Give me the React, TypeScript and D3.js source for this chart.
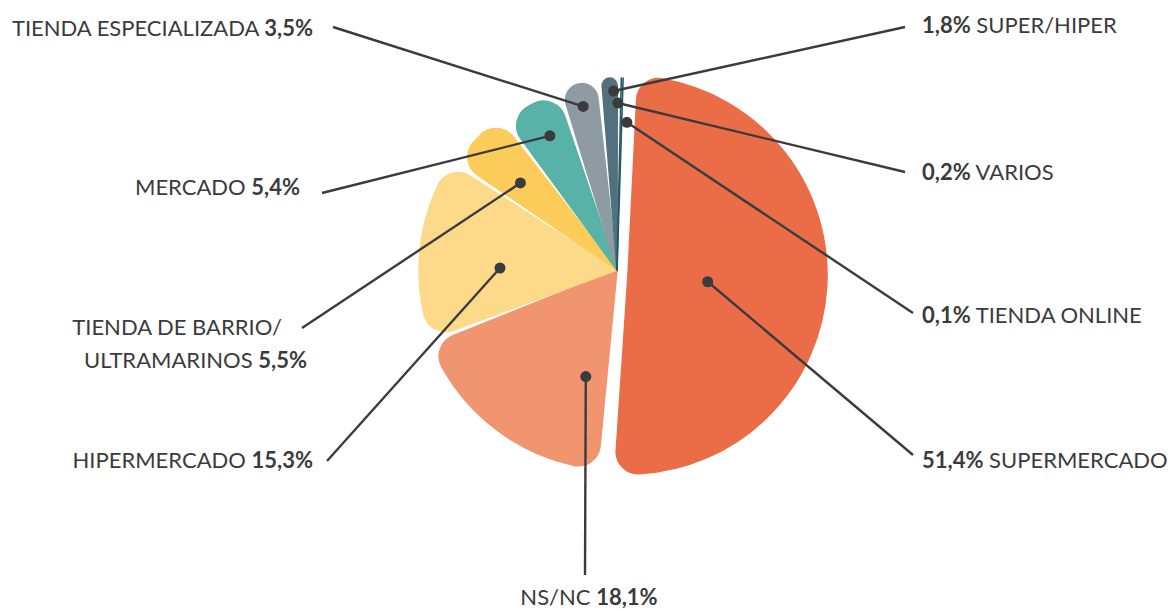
import React from "react";
import * as d3 from "d3";

// Distribution of purchase channels (%)
const categories = [
  "SUPERMERCADO",
  "NS/NC",
  "HIPERMERCADO",
  "TIENDA DE BARRIO/ULTRAMARINOS",
  "MERCADO",
  "TIENDA ESPECIALIZADA",
  "SUPER/HIPER",
  "VARIOS",
  "TIENDA ONLINE",
];
const shares = [51.4, 18.1, 15.3, 5.5, 5.4, 3.5, 1.8, 0.2, 0.1];

// Slice styling
const sliceColors = [
  "#EA6D48",
  "#F0956F",
  "#FDD98A",
  "#FBCC5A",
  "#58B2A7",
  "#8E9BA2",
  "#52707D",
  "#27606A",
  "#1E5A60",
];
const sliceRadii = [199, 200, 198, 192, 186, 190, 192, 192, 192];
// Offset of exploded slices, in px
const sliceShift: [number, number][] = [
  [11, 5], [0, 0], [0, 0], [0, 0], [0, 0], [0, 0], [0, 0], [0, 0], [0, 0],
];

// Callout layout: dot (angle nudge in degrees from slice middle, distance from centre),
// line end, and text placement
type Callout = {
  nudge: number;
  dist: number;
  end: [number, number];
  anchor: "start" | "middle" | "end";
  lines: { x: number; y: number }[];
  valueFirst: boolean;
  wrap?: boolean;
};
const callouts: Callout[] = [
  { nudge: 1.5, dist: 80, end: [913, 455], anchor: "start", lines: [{ x: 922, y: 468 }], valueFirst: true },
  { nudge: -20.5, dist: 111, end: [585, 575], anchor: "middle", lines: [{ x: 589, y: 605 }], valueFirst: false },
  { nudge: -5.2, dist: 117, end: [327, 461], anchor: "end", lines: [{ x: 313, y: 468 }], valueFirst: false },
  {
    nudge: -1.1, dist: 130, end: [302, 328], anchor: "end",
    lines: [{ x: 282, y: 335 }, { x: 307, y: 368 }], valueFirst: false, wrap: true,
  },
  { nudge: 0.9, dist: 150, end: [322, 193], anchor: "end", lines: [{ x: 300, y: 195 }], valueFirst: false },
  { nudge: 0, dist: 167, end: [333, 27], anchor: "end", lines: [{ x: 313, y: 36 }], valueFirst: false },
  { nudge: 1.2, dist: 179, end: [905, 27], anchor: "start", lines: [{ x: 922, y: 33 }], valueFirst: true },
  { nudge: -1, dist: 167, end: [905, 172], anchor: "start", lines: [{ x: 922, y: 180 }], valueFirst: true },
  { nudge: 2, dist: 148, end: [913, 313], anchor: "start", lines: [{ x: 922, y: 323 }], valueFirst: true },
];

const WIDTH = 1168;
const HEIGHT = 612;
const CX = 617;
const CY = 270;
const INK = "#3B3B3D";
const FONT = "Lato, 'Open Sans', sans-serif";
const FONT_SIZE = 22;

const fmt = (v: number) => d3.format(".1f")(v).replace(".", ",") + "%";

export default function App() {
  const start = (2 * Math.PI) / 180;
  const pie = d3
    .pie<number>()
    .sort(null)
    .value((d) => d)
    .startAngle(start)
    .endAngle(start + 2 * Math.PI);
  const arcs = pie(shares);

  const polar = (angle: number, r: number): [number, number] => [
    Math.sin(angle) * r,
    -Math.cos(angle) * r,
  ];

  return (
    <svg
      width={WIDTH}
      height={HEIGHT}
      style={{ position: "absolute", left: 0, top: 0, background: "#fff" }}
      fontFamily={FONT}
    >
      <g transform={`translate(${CX},${CY})`}>
        {arcs.map((a, i) => {
          const [ox, oy] = sliceShift[i];
          const arc = d3
            .arc<d3.PieArcDatum<number>>()
            .innerRadius(0)
            .outerRadius(sliceRadii[i])
            .cornerRadius(22)
            .padAngle(0.03)
            .padRadius(195);
          return (
            <path
              key={categories[i]}
              d={arc(a) || ""}
              transform={`translate(${ox},${oy})`}
              fill={sliceColors[i]}
              stroke={sliceColors[i]}
              strokeWidth={1.6}
              strokeLinejoin="round"
            />
          );
        })}
      </g>

      {arcs.map((a, i) => {
        const c = callouts[i];
        const mid = (a.startAngle + a.endAngle) / 2;
        const [ox, oy] = sliceShift[i];
        const [dx, dy] = polar(mid + (c.nudge * Math.PI) / 180, c.dist);
        const px = CX + ox + dx;
        const py = CY + oy + dy;
        const name = categories[i];
        const value = fmt(shares[i]);
        const nameLines = c.wrap
          ? [name.slice(0, name.indexOf("/") + 1), name.slice(name.indexOf("/") + 1)]
          : [name];
        return (
          <g key={`c-${name}`}>
            <line
              x1={px}
              y1={py}
              x2={c.end[0]}
              y2={c.end[1]}
              stroke={INK}
              strokeWidth={2.4}
            />
            <circle cx={px} cy={py} r={5.5} fill={INK} />
            {nameLines.map((ln, j) => {
              const pos = c.lines[j];
              const last = j === nameLines.length - 1;
              return (
                <text
                  key={j}
                  x={pos.x}
                  y={pos.y}
                  textAnchor={c.anchor}
                  fontSize={FONT_SIZE}
                  fill={INK}
                >
                  {c.valueFirst ? (
                    <>
                      <tspan fontWeight={700}>{value}</tspan>
                      <tspan> {ln}</tspan>
                    </>
                  ) : last ? (
                    <>
                      <tspan>{ln} </tspan>
                      <tspan fontWeight={700}>{value}</tspan>
                    </>
                  ) : (
                    <tspan>{ln}</tspan>
                  )}
                </text>
              );
            })}
          </g>
        );
      })}
    </svg>
  );
}
